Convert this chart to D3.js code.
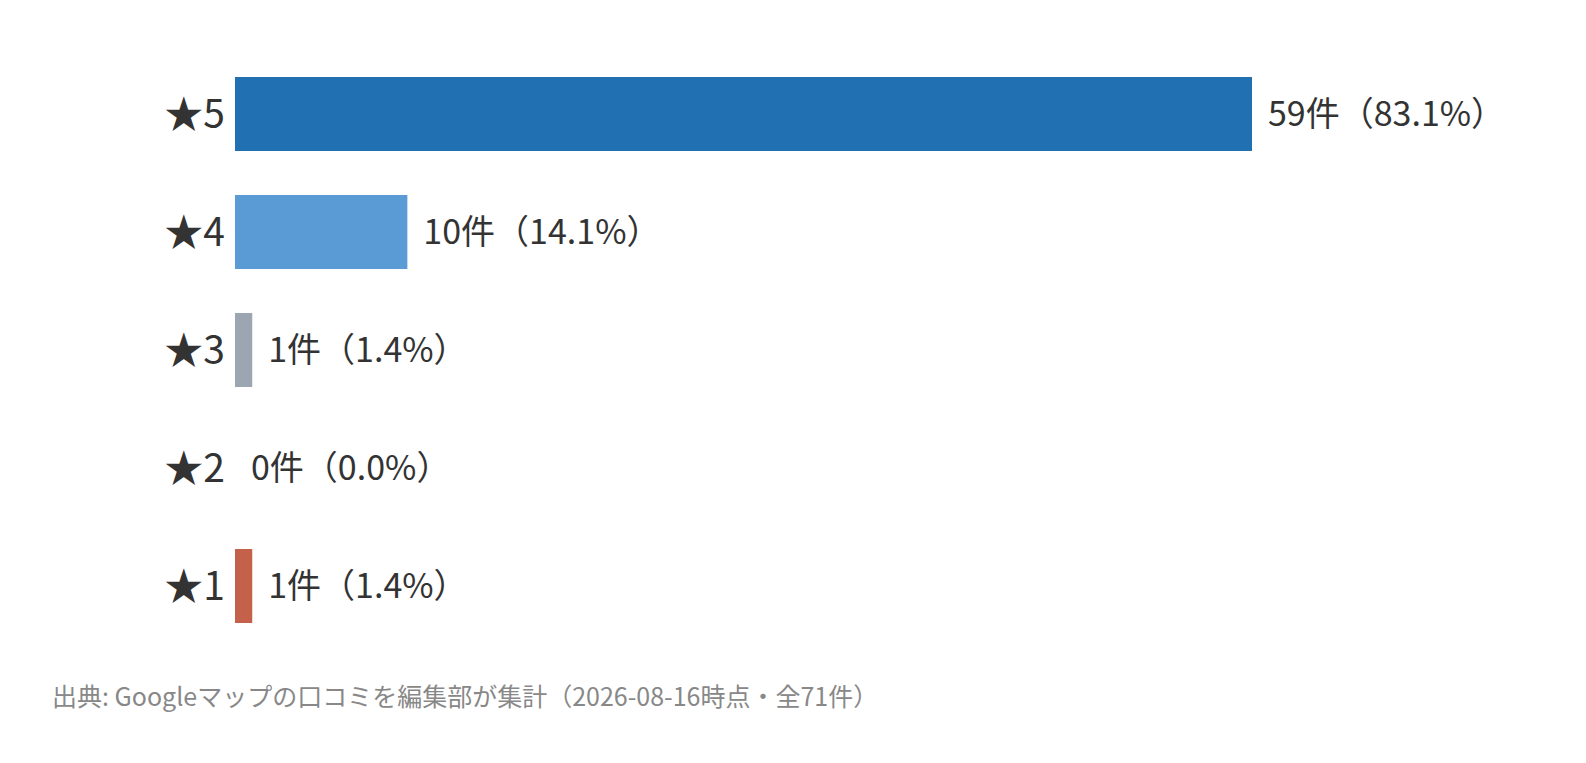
<!DOCTYPE html>
<html><head><meta charset="utf-8">
<script src="https://cdn.jsdelivr.net/npm/d3@7"></script>
<style>
html,body{margin:0;padding:0;background:#fff;}
svg{display:block;}
</style>
</head><body>
<svg id="chart" width="1586" height="763"></svg>
<script>
const categories = ["★5","★4","★3","★2","★1"];
const counts = [59, 10, 1, 0, 1];
const percents = ["83.1%","14.1%","1.4%","0.0%","1.4%"];
const colors = ["#2070b2","#5b9bd5","#9ca6b3","#9ca6b3","#c4614a"];
const footerText = "出典: Googleマップの口コミを編集部が集計（2026-08-16時点・全71件）";

const svg = d3.select("#chart");
const font = "'Noto Sans CJK JP','Noto Sans',sans-serif";

const x = d3.scaleLinear().domain([0, d3.max(counts)]).range([235, 1252]);
const y = d3.scaleBand().domain(categories).range([55, 645]).paddingInner(0.373).paddingOuter(0.1865);

const rows = categories.map((c,i)=>({cat:c, count:counts[i], pct:percents[i], color:colors[i]}));

svg.selectAll("rect.bar").data(rows).enter().append("rect")
  .attr("class","bar")
  .attr("x", x(0))
  .attr("y", d=>y(d.cat))
  .attr("width", d=>x(d.count)-x(0))
  .attr("height", y.bandwidth())
  .attr("fill", d=>d.color);

svg.selectAll("text.cat").data(rows).enter().append("text")
  .attr("class","cat")
  .attr("x", x(0)-10)
  .attr("y", d=>y(d.cat)+y.bandwidth()/2)
  .attr("dy","0.36em")
  .attr("text-anchor","end")
  .attr("font-family", font)
  .attr("font-size", 39)
  .attr("fill","#333")
  .text(d=>d.cat);

svg.selectAll("text.val").data(rows).enter().append("text")
  .attr("class","val")
  .attr("x", d=>x(d.count)+16)
  .attr("y", d=>y(d.cat)+y.bandwidth()/2)
  .attr("dy","0.36em")
  .attr("font-family", font)
  .attr("font-size", 34)
  .attr("fill","#333")
  .text(d=>`${d.count}件（${d.pct}）`);

svg.append("text")
  .attr("x", 52)
  .attr("y", 706)
  .attr("font-family", font)
  .attr("font-size", 25)
  .attr("fill","#888")
  .text(footerText);
</script>
</body></html>
